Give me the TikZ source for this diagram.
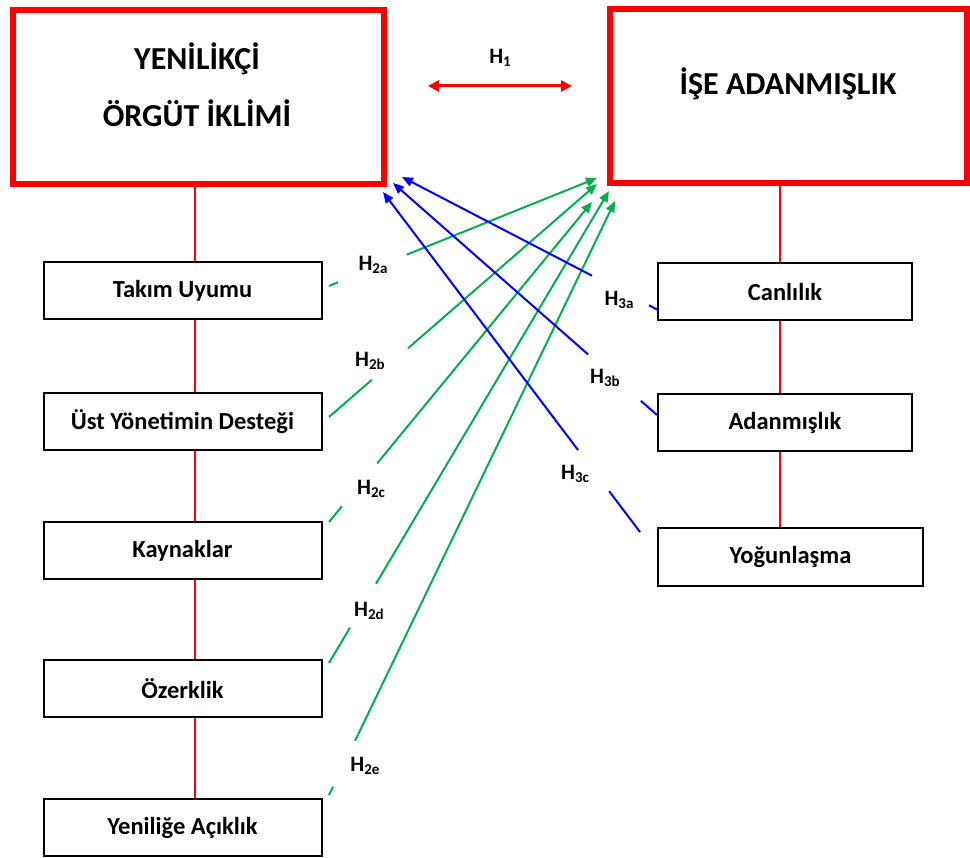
\documentclass[tikz,border=0pt]{standalone}
\usepackage{fontspec}
\setmainfont{Carlito}
\usetikzlibrary{arrows.meta,calc}
\definecolor{ogreen}{RGB}{0,176,80}
\definecolor{oblue}{RGB}{0,0,255}
\definecolor{ored}{RGB}{255,0,0}
\newcommand\HLab[1]{H\raisebox{-.35ex}{\fontsize{15}{15}\selectfont #1}}
\begin{document}
\begin{tikzpicture}[x=1pt,y=-1pt,
  bigbox/.style={draw=ored, line width=6pt, minimum height=174pt, inner sep=0pt},
  titletext/.style={font=\fontsize{32}{57}\selectfont\bfseries, align=center, inner sep=0pt},
  smallbox/.style={draw=black, line width=2pt, minimum height=57pt, inner sep=0pt,
    font=\fontsize{24.5}{28}\selectfont\bfseries},
  hlabel/.style={font=\fontsize{22}{24}\selectfont\bfseries, inner sep=0pt},
  vline/.style={draw=ored, line width=1.6pt},
  gline/.style={draw=ogreen, line width=2pt},
  garrow/.style={gline, -{Triangle[length=11pt,width=9pt]}},
  bline/.style={draw=oblue, line width=2pt},
  barrow/.style={bline, -{Triangle[length=11pt,width=9pt]}},
  redarrow/.style={draw=ored, line width=3pt, {Triangle[length=11pt,width=11pt]}-{Triangle[length=11pt,width=11pt]}}
]
\useasboundingbox (0,0) rectangle (970,858);

% big boxes
\node[bigbox, minimum width=371pt] (L) at (198.5,97) {};
\node[bigbox, minimum width=357pt] (R) at (788.5,96) {};
\node[titletext] (Ltext) at (197,84.5) {YENİLİKÇİ\\ÖRGÜT İKLİMİ};
\node[titletext] (Rtext) at (788,84) {İŞE ADANMIŞLIK};

% H1
\coordinate (h1l) at (428,86);
\coordinate (h1r) at (572,86);
\draw[redarrow] (h1l) -- (h1r);
\node[hlabel] (H1) at (500,58) {\HLab{1}};

% left boxes
\node[smallbox, minimum width=278pt] (takim) at (182.5,290.5) {Takım Uyumu};
\node[smallbox, minimum width=278pt] (ust) at (182.5,422) {Üst Yönetimin Desteği};
\node[smallbox, minimum width=278pt] (kaynak) at (182.5,550.5) {Kaynaklar};
\node[smallbox, minimum width=278pt] (ozerk) at (182.5,688.5) {Özerklik};
\node[smallbox, minimum width=278pt] (yenilige) at (182.5,827.5) {Yeniliğe Açıklık};

% right boxes
\node[smallbox, minimum width=254pt] (canli) at (785,292) {Canlılık};
\node[smallbox, minimum width=254pt] (adanm) at (785,423) {Adanmışlık};
\node[smallbox, minimum width=265pt] (yogun) at (790.5,557) {Yoğunlaşma};

% red vertical connectors
\coordinate (xl) at (195,0);
\coordinate (xr) at (780,0);
\draw[vline] (L.south -| xl) -- (takim.north -| xl);
\draw[vline] (takim.south -| xl) -- (ust.north -| xl);
\draw[vline] (ust.south -| xl) -- (kaynak.north -| xl);
\draw[vline] (kaynak.south -| xl) -- (ozerk.north -| xl);
\draw[vline] (ozerk.south -| xl) -- (yenilige.north -| xl);
\draw[vline] (R.south -| xr) -- (canli.north -| xr);
\draw[vline] (canli.south -| xr) -- (adanm.north -| xr);
\draw[vline] (adanm.south -| xr) -- (yogun.north -| xr);

% green arrows (H2)
\coordinate (g1s) at (329,286); \coordinate (g1t) at (597,178);
\coordinate (g2s) at (329,417); \coordinate (g2t) at (597,184);
\coordinate (g3s) at (329,522); \coordinate (g3t) at (592,202);
\coordinate (g4s) at (329,663); \coordinate (g4t) at (609,191);
\coordinate (g5s) at (329,795); \coordinate (g5t) at (615,201);
\draw[gline] (g1s) -- ($(g1s)!0.034!(g1t)$);
\draw[garrow] ($(g1s)!0.29!(g1t)$) -- (g1t);
\draw[gline] (g2s) -- ($(g2s)!0.16!(g2t)$);
\draw[garrow] ($(g2s)!0.295!(g2t)$) -- (g2t);
\draw[gline] (g3s) -- ($(g3s)!0.049!(g3t)$);
\draw[garrow] ($(g3s)!0.183!(g3t)$) -- (g3t);
\draw[gline] (g4s) -- ($(g4s)!0.075!(g4t)$);
\draw[garrow] ($(g4s)!0.168!(g4t)$) -- (g4t);
\draw[gline] (g5s) -- ($(g5s)!0.014!(g5t)$);
\draw[garrow] ($(g5s)!0.091!(g5t)$) -- (g5t);
\node[hlabel] (H2a) at (373,265) {\HLab{2a}};
\node[hlabel] (H2b) at (370,361) {\HLab{2b}};
\node[hlabel] (H2c) at (371,489) {\HLab{2c}};
\node[hlabel] (H2d) at (369,611) {\HLab{2d}};
\node[hlabel] (H2e) at (365,766) {\HLab{2e}};

% blue arrows (H3)
\coordinate (b1s) at (658,310); \coordinate (b1t) at (402,177);
\coordinate (b2s) at (657,415); \coordinate (b2t) at (393,183);
\coordinate (b3s) at (640,532); \coordinate (b3t) at (383,192);
\draw[bline] (b1s) -- ($(b1s)!0.035!(b1t)$);
\draw[barrow] ($(b1s)!0.258!(b1t)$) -- (b1t);
\draw[bline] (b2s) -- ($(b2s)!0.061!(b2t)$);
\draw[barrow] ($(b2s)!0.261!(b2t)$) -- (b2t);
\draw[bline] (b3s) -- ($(b3s)!0.12!(b3t)$);
\draw[barrow] ($(b3s)!0.241!(b3t)$) -- (b3t);
\node[hlabel] (H3a) at (619,300) {\HLab{3a}};
\node[hlabel] (H3b) at (605,378) {\HLab{3b}};
\node[hlabel] (H3c) at (575,474) {\HLab{3c}};
\end{tikzpicture}
\end{document}
